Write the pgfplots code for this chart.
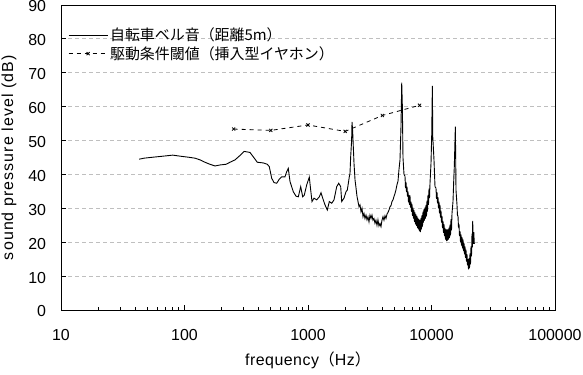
\documentclass[border=0pt]{standalone}
\usepackage{fontspec}
\setmainfont{Liberation Sans}
\newfontfamily\jp{Noto Sans CJK JP}
\usepackage{pgfplots}
\pgfplotsset{compat=1.18}
\begin{document}
\begin{tikzpicture}
\begin{axis}[
  width=494bp, height=305bp, scale only axis,
  xmode=log, log basis x=10,
  xmin=10, xmax=100000, ymin=0, ymax=90,
  xtick={10,100,1000,10000,100000},
  xticklabels={10,100,1000,10000,100000},
  minor xtick={20,30,40,50,60,70,80,90,200,300,400,500,600,700,800,900,2000,3000,4000,5000,6000,7000,8000,9000,20000,30000,40000,50000,60000,70000,80000,90000},
  ytick={0,10,20,30,40,50,60,70,80,90},
  yticklabels={0,10,20,30,40,50,60,70,80,90},
  xtick pos=bottom, ytick pos=left,
  tick align=inside,
  major tick length=5bp, minor tick length=3bp,
  tick style={black, line width=0.8bp},
  axis line style={black, line width=1bp},
  ymajorgrids,
  major grid style={draw=black!25, line width=0.8bp, dash pattern=on 4bp off 3bp},
  ticklabel style={font=\fontsize{16}{18}\selectfont},
  xticklabel style={yshift=-16bp},
  yticklabel style={xshift=-11.5bp, yshift=-1.5bp},
  xlabel={frequency{\jp （}Hz{\jp ）}},
  ylabel={sound pressure level (dB)},
  xlabel style={font=\fontsize{16}{18}\selectfont\addfontfeature{LetterSpace=3},
    at={([yshift=-55bp]axis description cs:0.5,0)}, anchor=base},
  ylabel style={font=\fontsize{16}{18}\selectfont\addfontfeature{LetterSpace=7},
    at={([xshift=-48bp]axis description cs:0,0.5)}, anchor=base},
  legend style={draw=none, fill=none, at={(axis description cs:0,1)}, anchor=north west,
    xshift=7bp, yshift=-21bp, font=\jp\fontsize{15}{16}\selectfont, row sep=0bp,
    inner sep=0pt, nodes={inner sep=2bp}},
  legend cell align=left,
  legend image code/.code={\draw[mark repeat=2,mark phase=2,#1] plot coordinates {(0bp,0bp) (19.5bp,0bp) (39bp,0bp)};},
]
\addplot[black, line width=0.9bp, mark=none] coordinates {
(43,44.5) (47,44.8) (55.8,45.1) (67.3,45.4) (80.2,45.7) (92,45.4) (107,45.1) (121.7,44.8)
(133.5,44.3) (146.5,43.6) (160.8,43.0) (176.6,42.5) (193.8,42.8) (216.8,43.0) (233.5,43.6)
(256.5,44.3) (281.4,45.6) (304,46.8) (339,46.5) (360.6,45.2) (388.6,43.6) (434.6,43.4)
(468.1,43.0) (486,42.3) (508,38.9) (530.6,37.6) (558,37.4) (585.6,38.6) (612.4,39.3)
(651.3,39.3) (672.2,40.8) (692.6,41.8) (715,37.9) (760.3,34.9) (799.5,33.6) (834.6,33.4)
(872.8,36.4) (906,33.4) (933.3,33.9) (976,36.9) (1024.5,39.2) (1051.7,35.4) (1077.5,32.0)
(1118.5,33.0) (1176,32.5) (1234.8,33.4) (1274.6,34.6) (1315.5,33.0) (1373.4,31.0)
(1433.5,29.5) (1488,32.0) (1556,31.5) (1624,32.5) (1708,36.4) (1773,37.4) (1840,36.4)
(1875,32.0) (1957,33.0) (2031,34.9) (2081,35.4) (2160,39.3) (2188,40.3) (2216,45.2)
(2255,50.0) (2272,55.5) (2301,52.6) (2327,48.2) (2360,43.0) (2403,38.4) (2448,36.0)
(2494,33.5) (2541,32.0) (2588,30.5) (2637,31.0) (2687,29.0) (2737,30.0) (2789,27.5)
(2841,28.5) (2894,27.0) (2949,28.0) (3004,26.6) (3061,27.5) (3118,26.0) (3177,28.0)
(3237,27.0) (3297,28.0) (3359,26.5) (3422,27.0) (3487,25.6) (3552,26.5) (3619,25.0)
(3687,26.6) (3757,24.8) (3828,25.5) (3900,24.6) (3973,26.5) (4048,27.5) (4124,26.5)
(4202,27.8) (4281,27.0) (4362,28.3) (4444,28.8) (4527,29.5) (4613,30.5) (4700,30.8)
(4788,32.0) (4878,32.5) (4970,33.5) (5064,34.4) (5159,35.5) (5256,37.0) (5355,38.0)
(5455,41.5) (5558,44.3) (5662,54.1) (5740,67.1) (5810,60.0) (5877,45.0) (5988,40.0)
(6101,39.5) (6158,36.0) (6215,37.8) (6274,34.8) (6333,36.4) (6392,33.5) (6452,35.0)
(6512,31.8) (6573,34.0) (6635,31.0) (6697,33.8) (6760,30.2) (6823,32.0) (6887,29.0)
(6951,31.3) (7016,27.8) (7082,30.2) (7148,27.0) (7215,29.5) (7283,26.0) (7351,28.8)
(7420,25.3) (7489,28.2) (7559,24.8) (7630,27.8) (7701,24.2) (7773,27.2) (7846,23.8)
(7920,26.8) (7994,23.2) (8069,26.5) (8145,23.0) (8220,27.2) (8297,23.8) (8375,28.0)
(8453,24.6) (8533,29.0) (8613,25.8) (8693,29.8) (8775,26.4) (8857,30.3) (8940,27.0)
(9023,31.0) (9108,27.6) (9193,32.3) (9279,29.0) (9366,34.0) (9455,31.0) (9545,35.8)
(9635,33.0) (9725,37.4) (9908,43.3) (10040,51.6) (10160,66.1) (10240,51.1) (10476,44.3)
(10673,36.4) (10874,36.0) (10976,32.8) (11079,34.8) (11183,31.5) (11287,33.3) (11393,30.0)
(11500,32.0) (11608,28.5) (11716,31.0) (11826,27.3) (11937,29.3) (12049,25.8) (12162,27.8)
(12276,24.2) (12390,26.3) (12507,22.8) (12624,25.3) (12742,21.8) (12861,24.2) (12982,20.8)
(13103,23.8) (13226,20.3) (13350,23.8) (13475,20.5) (13601,23.8) (13729,20.8) (13857,24.3)
(13987,21.2) (14118,25.2) (14251,22.0) (14384,26.8) (14519,23.5) (14655,28.5) (14931,32.0)
(15130,38.0) (15300,42.3) (15600,54.1) (15720,43.0) (15790,35.4) (16087,31.0) (16238,27.8)
(16390,27.8) (16543,24.3) (16699,25.3) (16855,21.8) (17013,23.3) (17172,20.0) (17333,22.3)
(17495,19.0) (17660,21.5) (17825,18.2) (17992,20.8) (18160,17.4) (18331,19.8) (18503,16.4)
(18676,18.8) (18850,15.4) (19027,17.8) (19205,14.3) (19386,16.5) (19567,13.2) (19751,15.0)
(19936,12.0) (20122,15.3) (20310,12.3) (20501,16.7) (20692,13.5) (20887,18.8) (21082,15.8)
(21280,22.5) (21479,18.5) (21560,26.3) (21790,19.5) (22000,23.0) (22220,19.5)
};
\addlegendentry{自転車ベル音（距離5m）}
\addplot[black, line width=0.8bp, dash pattern=on 4bp off 4bp, mark=x, mark size=2.2bp,
  mark options={solid, line width=0.8bp}] coordinates {
(250,53.4) (500,53.0) (1000,54.6) (2000,52.7) (4000,57.4) (8000,60.4)
};
\addlegendentry{駆動条件閾値（挿入型イヤホン）}
\end{axis}
\pgfresetboundingbox
\path[use as bounding box] (-61bp,-65bp) rectangle (522bp,310bp);
\end{tikzpicture}
\end{document}
